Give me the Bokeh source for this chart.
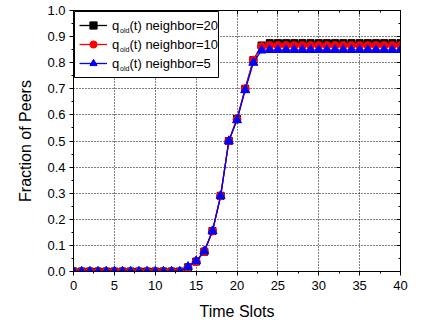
from bokeh.plotting import figure
from bokeh.models import (Range1d, LinearAxis, Legend, LegendItem, Label,
                          BoxAnnotation, SingleIntervalTicker, CustomJSTickFormatter)
from bokeh.embed import file_html
from bokeh.resources import INLINE

time_slots = list(range(0, 41))
frac_n20 = [0.0, 0.0, 0.0, 0.0, 0.0, 0.0, 0.0, 0.0, 0.0, 0.0, 0.0, 0.0, 0.0, 0.0,
            0.016, 0.038, 0.076, 0.155, 0.29, 0.50, 0.585, 0.70, 0.81, 0.866,
            0.875, 0.875, 0.875, 0.875, 0.875, 0.875, 0.875, 0.875, 0.875, 0.875,
            0.875, 0.875, 0.875, 0.875, 0.875, 0.875, 0.875]
frac_n10 = [0.0, 0.0, 0.0, 0.0, 0.0, 0.0, 0.0, 0.0, 0.0, 0.0, 0.0, 0.0, 0.0, 0.0,
            0.016, 0.038, 0.077, 0.155, 0.29, 0.50, 0.583, 0.70, 0.81, 0.862,
            0.866, 0.866, 0.866, 0.866, 0.866, 0.866, 0.866, 0.866, 0.866, 0.866,
            0.866, 0.866, 0.866, 0.866, 0.866, 0.866, 0.866]
frac_n5 = [0.0, 0.0, 0.0, 0.0, 0.0, 0.0, 0.0, 0.0, 0.0, 0.0, 0.0, 0.0, 0.0, 0.0,
           0.018, 0.040, 0.078, 0.155, 0.29, 0.50, 0.58, 0.695, 0.80, 0.847,
           0.849, 0.849, 0.849, 0.849, 0.849, 0.849, 0.849, 0.849, 0.849, 0.849,
           0.849, 0.849, 0.849, 0.849, 0.849, 0.849, 0.849]
neighbor_labels = ["(t) neighbor=20", "(t) neighbor=10", "(t) neighbor=5"]

FONT = "Liberation Sans"

p = figure(frame_width=327, frame_height=261,
           min_border_left=73, min_border_right=27,
           min_border_top=10, min_border_bottom=56,
           x_range=Range1d(0, 40), y_range=Range1d(0, 1),
           output_backend="svg", toolbar_location=None,
           x_axis_label="Time Slots", y_axis_label="Fraction of Peers")
p.outline_line_color = "black"
p.background_fill_color = "white"
p.border_fill_color = "white"

for ax, step in ((p.xaxis[0], 5), (p.yaxis[0], 0.1)):
    ax.ticker = SingleIntervalTicker(interval=step, num_minor_ticks=2)
    ax.major_tick_out = 4
    ax.major_tick_in = 0
    ax.minor_tick_out = 2
    ax.minor_tick_in = 0
    ax.axis_line_color = "black"
    ax.major_tick_line_color = "black"
    ax.minor_tick_line_color = "black"
    ax.major_label_text_font = FONT
    ax.major_label_text_font_size = "13px"
    ax.major_label_text_color = "black"
    ax.axis_label_text_font = FONT
    ax.axis_label_text_font_size = "16px"
    ax.axis_label_text_font_style = "normal"
    ax.axis_label_text_color = "black"

p.xaxis.major_label_standoff = 5
p.xaxis.axis_label_standoff = 10
p.yaxis.major_label_standoff = 4
p.yaxis.axis_label_standoff = 10
p.yaxis.formatter = CustomJSTickFormatter(code="return tick.toFixed(1);")

# mirrored axes with inward ticks, no labels
top = LinearAxis(ticker=SingleIntervalTicker(interval=5, num_minor_ticks=2))
right = LinearAxis(ticker=SingleIntervalTicker(interval=0.1, num_minor_ticks=2))
for ax in (top, right):
    ax.major_tick_in = 4
    ax.major_tick_out = 0
    ax.minor_tick_in = 2
    ax.minor_tick_out = 0
    ax.formatter = CustomJSTickFormatter(code="return '';")
    ax.major_label_standoff = 0
    ax.axis_line_color = "black"
p.add_layout(top, "above")
p.add_layout(right, "right")

for g in (p.xgrid[0], p.ygrid[0]):
    g.grid_line_color = "black"
    g.grid_line_dash = "1 2"
    g.grid_line_width = 1
p.xgrid.ticker = SingleIntervalTicker(interval=5)
p.ygrid.ticker = SingleIntervalTicker(interval=0.1)

l1 = p.line(time_slots, frac_n20, line_color="black", line_width=1.3)
s1 = p.scatter(time_slots, frac_n20, marker="square", size=7,
               fill_color="black", line_color="black")
l2 = p.line(time_slots, frac_n10, line_color="red", line_width=1.3)
s2 = p.scatter(time_slots, frac_n10, marker="circle", size=8,
               fill_color="red", line_color="red")
l3 = p.line(time_slots, frac_n5, line_color="blue", line_width=1.3)
s3 = p.scatter(time_slots, frac_n5, marker="triangle", size=9,
               fill_color="blue", line_color="blue")

# fixed frame: 327 px per 40 units, 261 px per 1.0
px_x = 40 / 327.0
px_y = 1 / 261.0

# legend box (white, bordered) drawn beneath the legend texts
p.add_layout(BoxAnnotation(left=(74 - 73) * px_x, right=(218 - 73) * px_x,
                           top=(271 - 11) * px_y, bottom=(271 - 77) * px_y,
                           fill_color="white", fill_alpha=1,
                           line_color="black", line_width=1, line_alpha=1))

legend = Legend(items=[LegendItem(label="q", renderers=[l1, s1]),
                       LegendItem(label="q", renderers=[l2, s2]),
                       LegendItem(label="q", renderers=[l3, s3])],
                location="top_left", margin=1, padding=5, spacing=1,
                glyph_width=28, glyph_height=18, label_height=18,
                label_width=101, label_standoff=5,
                border_line_alpha=0, background_fill_alpha=0,
                label_text_font=FONT, label_text_font_size="13px",
                label_text_color="black")
p.add_layout(legend)

x_sub = (119.5 - 73) * px_x
x_rest = (129 - 73) * px_x
for i, txt in enumerate(neighbor_labels):
    centre_px = 25 + 19 * i
    y_mid = (271 - centre_px) * px_y
    y_sub = (271 - centre_px - 5.2) * px_y
    p.add_layout(Label(x=x_sub, y=y_sub, text="old", text_font=FONT,
                       text_font_size="7px", text_baseline="middle",
                       text_color="black"))
    p.add_layout(Label(x=x_rest, y=y_mid, text=txt, text_font=FONT,
                       text_font_size="13px", text_baseline="middle",
                       text_color="black"))

open("out.html", "w").write(file_html(p, INLINE))
